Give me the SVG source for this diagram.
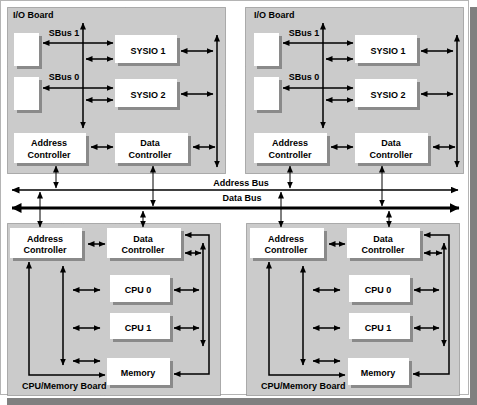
<svg xmlns="http://www.w3.org/2000/svg" width="477" height="405" viewBox="0 0 477 405">
<defs>
<style>
text{font-family:"Liberation Sans",Arial,sans-serif;font-weight:bold;font-size:9px;fill:#000}
.c{text-anchor:middle}
.board{fill:#cbcbcb;stroke:#6e6e6e;stroke-width:1;stroke-dasharray:1,1}
.box{fill:#fff}
.sh{fill:#8a8a8a}
.ln{fill:none;stroke:#000;stroke-width:1.5;marker-start:url(#a);marker-end:url(#a)}
.thin{fill:none;stroke:#000;stroke-width:1;marker-start:url(#a);marker-end:url(#a)}
</style>
<marker id="a" viewBox="0 0 7 6" refX="6.5" refY="3" markerWidth="7" markerHeight="6" markerUnits="userSpaceOnUse" orient="auto-start-reverse"><path d="M0,0L7,3L0,6z" fill="#000"/></marker>
<marker id="b" viewBox="0 0 8 7" refX="7.5" refY="3.5" markerWidth="8" markerHeight="7" markerUnits="userSpaceOnUse" orient="auto-start-reverse"><path d="M0,0L8,3.5L0,7z" fill="#000"/></marker>
<marker id="d" viewBox="0 0 10 10" refX="9.5" refY="5" markerWidth="10" markerHeight="10" markerUnits="userSpaceOnUse" orient="auto-start-reverse"><path d="M0,0L10,5L0,10z" fill="#000"/></marker>
</defs>
<g id="frame">
<rect x="470" y="7" width="7" height="398" fill="#808080"/>
<rect x="7" y="398" width="470" height="7" fill="#808080"/>
<rect x="0" y="0" width="470" height="398" fill="#fff"/>
<rect x="0.5" y="0.5" width="468" height="394" fill="none" stroke="#b4b4b4"/>
</g>
<g id="boards">
<g id="io-board-left"><rect class="board" x="7.5" y="7.5" width="218" height="166"/><text x="13" y="18">I/O Board</text></g>
<g id="io-board-right"><rect class="board" x="245.5" y="7.5" width="218" height="166"/><text x="254" y="18">I/O Board</text></g>
<g id="cpu-board-left"><rect class="board" x="7.5" y="223.5" width="213" height="172"/><text x="22" y="389">CPU/Memory Board</text></g>
<g id="cpu-board-right"><rect class="board" x="246.5" y="223.5" width="213" height="172"/><text x="261" y="389">CPU/Memory Board</text></g>
</g>
<g id="nodes">
<g id="io1-sbus1-dev"><rect class="sh" x="17" y="36" width="25" height="33"/><rect class="box" x="14" y="33" width="25" height="33"/></g>
<g id="io1-sbus0-dev"><rect class="sh" x="17" y="80" width="25" height="33"/><rect class="box" x="14" y="77" width="25" height="33"/></g>
<g id="io1-sysio1"><rect class="sh" x="118" y="38" width="62" height="28"/><rect class="box" x="115" y="35" width="62" height="28"/><text class="c" x="148" y="54">SYSIO 1</text></g>
<g id="io1-sysio2"><rect class="sh" x="118" y="82" width="62" height="28"/><rect class="box" x="115" y="79" width="62" height="28"/><text class="c" x="148" y="98">SYSIO 2</text></g>
<g id="io1-addr"><rect class="sh" x="17" y="136" width="72" height="30"/><rect class="box" x="14" y="133" width="72" height="30"/><text class="c" x="49" y="146">Address</text><text class="c" x="49" y="158">Controller</text></g>
<g id="io1-data"><rect class="sh" x="118" y="136" width="73" height="30"/><rect class="box" x="115" y="133" width="73" height="30"/><text class="c" x="150" y="146">Data</text><text class="c" x="150" y="158">Controller</text></g>

<g id="io2-sbus1-dev"><rect class="sh" x="257" y="36" width="25" height="33"/><rect class="box" x="254" y="33" width="25" height="33"/></g>
<g id="io2-sbus0-dev"><rect class="sh" x="257" y="80" width="25" height="33"/><rect class="box" x="254" y="77" width="25" height="33"/></g>
<g id="io2-sysio1"><rect class="sh" x="358" y="38" width="62" height="28"/><rect class="box" x="355" y="35" width="62" height="28"/><text class="c" x="388" y="54">SYSIO 1</text></g>
<g id="io2-sysio2"><rect class="sh" x="358" y="82" width="62" height="28"/><rect class="box" x="355" y="79" width="62" height="28"/><text class="c" x="388" y="98">SYSIO 2</text></g>
<g id="io2-addr"><rect class="sh" x="257" y="136" width="73" height="30"/><rect class="box" x="254" y="133" width="73" height="30"/><text class="c" x="290" y="146">Address</text><text class="c" x="290" y="158">Controller</text></g>
<g id="io2-data"><rect class="sh" x="358" y="136" width="73" height="30"/><rect class="box" x="355" y="133" width="73" height="30"/><text class="c" x="391" y="146">Data</text><text class="c" x="391" y="158">Controller</text></g>

<g id="cpu1-addr"><rect class="sh" x="13" y="231" width="72" height="30"/><rect class="box" x="10" y="228" width="72" height="30"/><text class="c" x="45" y="242">Address</text><text class="c" x="45" y="253">Controller</text></g>
<g id="cpu1-data"><rect class="sh" x="110" y="231" width="74" height="30"/><rect class="box" x="107" y="228" width="74" height="30"/><text class="c" x="143" y="242">Data</text><text class="c" x="143" y="253">Controller</text></g>
<g id="cpu1-cpu0"><rect class="sh" x="113" y="278" width="60" height="27"/><rect class="box" x="110" y="275" width="60" height="27"/><text class="c" x="138" y="293">CPU 0</text></g>
<g id="cpu1-cpu1"><rect class="sh" x="113" y="316" width="60" height="26"/><rect class="box" x="110" y="313" width="60" height="26"/><text class="c" x="138" y="331">CPU 1</text></g>
<g id="cpu1-mem"><rect class="sh" x="110" y="361" width="63" height="27"/><rect class="box" x="107" y="358" width="63" height="27"/><text class="c" x="138" y="376">Memory</text></g>

<g id="cpu2-addr"><rect class="sh" x="253" y="231" width="74" height="30"/><rect class="box" x="250" y="228" width="74" height="30"/><text class="c" x="286" y="242">Address</text><text class="c" x="286" y="253">Controller</text></g>
<g id="cpu2-data"><rect class="sh" x="350" y="231" width="73" height="30"/><rect class="box" x="347" y="228" width="73" height="30"/><text class="c" x="383" y="242">Data</text><text class="c" x="383" y="253">Controller</text></g>
<g id="cpu2-cpu0"><rect class="sh" x="352" y="278" width="61" height="27"/><rect class="box" x="349" y="275" width="61" height="27"/><text class="c" x="378" y="293">CPU 0</text></g>
<g id="cpu2-cpu1"><rect class="sh" x="352" y="316" width="61" height="26"/><rect class="box" x="349" y="313" width="61" height="26"/><text class="c" x="378" y="331">CPU 1</text></g>
<g id="cpu2-mem"><rect class="sh" x="351" y="361" width="61" height="27"/><rect class="box" x="348" y="358" width="61" height="27"/><text class="c" x="378" y="376">Memory</text></g>
</g>
<g id="labels">
<text class="c" x="64" y="36">SBus 1</text>
<text class="c" x="64" y="80">SBus 0</text>
<text class="c" x="304" y="36">SBus 1</text>
<text class="c" x="304" y="80">SBus 0</text>
<text class="c" x="241" y="186">Address Bus</text>
<text class="c" x="242" y="201">Data Bus</text>
</g>
<g id="connectors">
<!-- left I/O -->
<path class="ln" d="M83,23V128"/>
<path class="ln" d="M43,43H113"/>
<path class="ln" d="M86,59H113"/>
<path class="ln" d="M43,88H113"/>
<path class="ln" d="M86,100H113"/>
<path class="ln" d="M181,51H213"/>
<path class="ln" d="M181,94H213"/>
<path class="ln" d="M217,35V167"/>
<path class="ln" d="M91,147H113"/>
<path class="ln" d="M193,147H215"/>
<!-- right I/O -->
<path class="ln" d="M323,23V128"/>
<path class="ln" d="M283,43H353"/>
<path class="ln" d="M326,59H353"/>
<path class="ln" d="M283,88H353"/>
<path class="ln" d="M326,100H353"/>
<path class="ln" d="M421,51H453"/>
<path class="ln" d="M421,94H453"/>
<path class="ln" d="M457,35V167"/>
<path class="ln" d="M331,147H353"/>
<path class="ln" d="M433,147H455"/>
<!-- buses -->
<path d="M12,190H458" fill="none" stroke="#000" stroke-width="1.5" marker-start="url(#b)" marker-end="url(#b)"/>
<path d="M12,208H459" fill="none" stroke="#000" stroke-width="3" marker-start="url(#d)" marker-end="url(#d)"/>
<path class="thin" d="M56,166V188"/>
<path class="thin" d="M153,166V206"/>
<path class="thin" d="M290,166V188"/>
<path class="thin" d="M382,166V206"/>
<path class="thin" d="M40,192V227"/>
<path class="thin" d="M143,211V227"/>
<path class="thin" d="M281,192V227"/>
<path class="thin" d="M389,211V227"/>
<!-- left CPU -->
<path class="ln" d="M88,244H105"/>
<path class="ln" d="M29,262V375H105"/>
<path class="ln" d="M63,266V365"/>
<path class="ln" d="M73,290H100"/>
<path class="ln" d="M73,328H100"/>
<path class="ln" d="M73,361H100"/>
<path class="ln" d="M174,290H199"/>
<path class="ln" d="M174,328H199"/>
<path class="ln" d="M203,243V346"/>
<path class="ln" d="M185,253H201"/>
<path class="ln" d="M185,235H209V374H174"/>
<!-- right CPU -->
<path class="ln" d="M329,244H345"/>
<path class="ln" d="M269,262V375H345"/>
<path class="ln" d="M303,266V365"/>
<path class="ln" d="M313,290H340"/>
<path class="ln" d="M313,328H340"/>
<path class="ln" d="M313,361H340"/>
<path class="ln" d="M414,290H439"/>
<path class="ln" d="M414,328H439"/>
<path class="ln" d="M444,243V346"/>
<path class="ln" d="M424,253H442"/>
<path class="ln" d="M424,235H449V374H413"/>
</g>
</svg>
